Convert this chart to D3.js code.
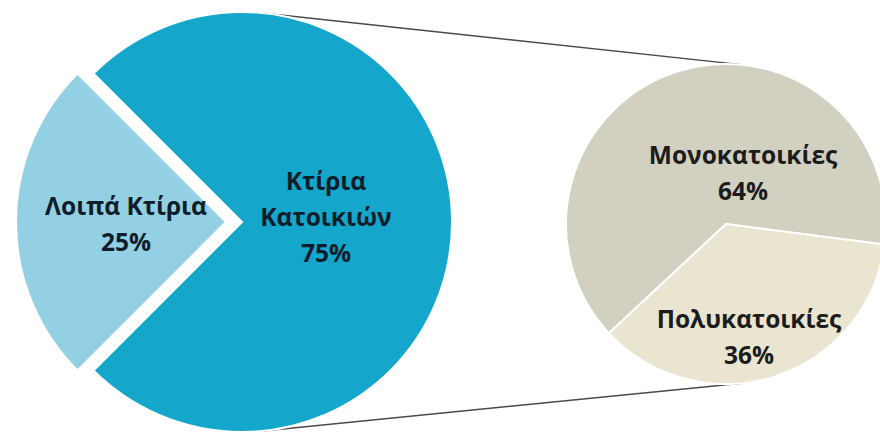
<!DOCTYPE html>
<html>
<head>
<meta charset="utf-8">
<script src="https://cdn.jsdelivr.net/npm/d3@7/dist/d3.min.js"></script>
<style>
  html, body { margin: 0; padding: 0; background: #fff; }
  svg { display: block; }
  text { font-family: "Open Sans", "Noto Sans", sans-serif; font-weight: 700; }
</style>
</head>
<body>
<svg id="chart" width="880" height="432"></svg>
<script>
// Building stock: main split and breakdown of residential buildings
const mainCategories = ["Κτίρια Κατοικιών", "Λοιπά Κτίρια"];
const mainValues = [75, 25];
const mainLabelLines = [["Κτίρια", "Κατοικιών"], ["Λοιπά Κτίρια"]];

const subCategories = ["Μονοκατοικίες", "Πολυκατοικίες"];
const subValues = [64, 36];
const subLabelLines = [["Μονοκατοικίες"], ["Πολυκατοικίες"]];

const mainColors = ["#14a6cb", "#94d0e3"];
const subColors = ["#d1d0c1", "#e9e5d0"];

const svg = d3.select("#chart");
const deg = Math.PI / 180;

// geometry of the two pies
const main = { cx: 242, cy: 222, r: 210, start: -45 * deg, explode: [0, 16] };
const sub = { cx: 726, cy: 224, r: 160, start: 227 * deg };

// label placement (offset from pie centre, px)
const mainLabelPos = [[84, -5], [-116, 2]];
const subLabelPos = [[17, -51], [23, 113]];

function pct(v, total) { return Math.round(v / total * 100) + "%"; }

// connector lines: outer tangents of the two circles
(function drawConnectors() {
  const dx = sub.cx - main.cx, dy = sub.cy - main.cy;
  const D = Math.hypot(dx, dy);
  const phi = Math.atan2(dy, dx);
  const a = Math.acos((main.r - sub.r) / D);
  [phi - a, phi + a].forEach(t => {
    svg.append("line")
      .attr("x1", main.cx + main.r * Math.cos(t))
      .attr("y1", main.cy + main.r * Math.sin(t))
      .attr("x2", sub.cx + sub.r * Math.cos(t))
      .attr("y2", sub.cy + sub.r * Math.sin(t))
      .attr("stroke", "#4a4a4a")
      .attr("stroke-width", 1.4);
  });
})();

function drawPie(cfg, values, colors, explodeList) {
  const pie = d3.pie().sort(null)
    .startAngle(cfg.start).endAngle(cfg.start + 2 * Math.PI);
  const arc = d3.arc().innerRadius(0).outerRadius(cfg.r);
  const arcs = pie(values);
  const g = svg.append("g").attr("transform", `translate(${cfg.cx},${cfg.cy})`);
  g.selectAll("path").data(arcs).join("path")
    .attr("d", arc)
    .attr("fill", (d, i) => colors[i])
    .attr("stroke", "#fff")
    .attr("stroke-width", 2)
    .attr("stroke-linejoin", "miter")
    .attr("transform", (d, i) => {
      const off = explodeList ? explodeList[i] : 0;
      const mid = (d.startAngle + d.endAngle) / 2;
      return `translate(${off * Math.sin(mid)},${-off * Math.cos(mid)})`;
    });
  return { g, arcs };
}

const mainPie = drawPie(main, mainValues, mainColors, main.explode);
const subPie = drawPie(sub, subValues, subColors, null);

function drawLabels(g, values, linesList, pos, color, lh) {
  const total = d3.sum(values);
  values.forEach((v, i) => {
    const lines = linesList[i].concat([pct(v, total)]);
    const t = g.append("text")
      .attr("text-anchor", "middle")
      .attr("fill", color)
      .attr("font-size", 24.5)
      .attr("x", pos[i][0])
      .attr("y", pos[i][1] - (lines.length - 1) * lh / 2);
    lines.forEach((s, k) => {
      t.append("tspan")
        .attr("x", pos[i][0])
        .attr("dy", k === 0 ? "0.35em" : lh)
        .text(s);
    });
  });
}

drawLabels(mainPie.g, mainValues, mainLabelLines, mainLabelPos, "#0f1d2a", 36);
drawLabels(subPie.g, subValues, subLabelLines, subLabelPos, "#1c1c1c", 36);
</script>
</body>
</html>
